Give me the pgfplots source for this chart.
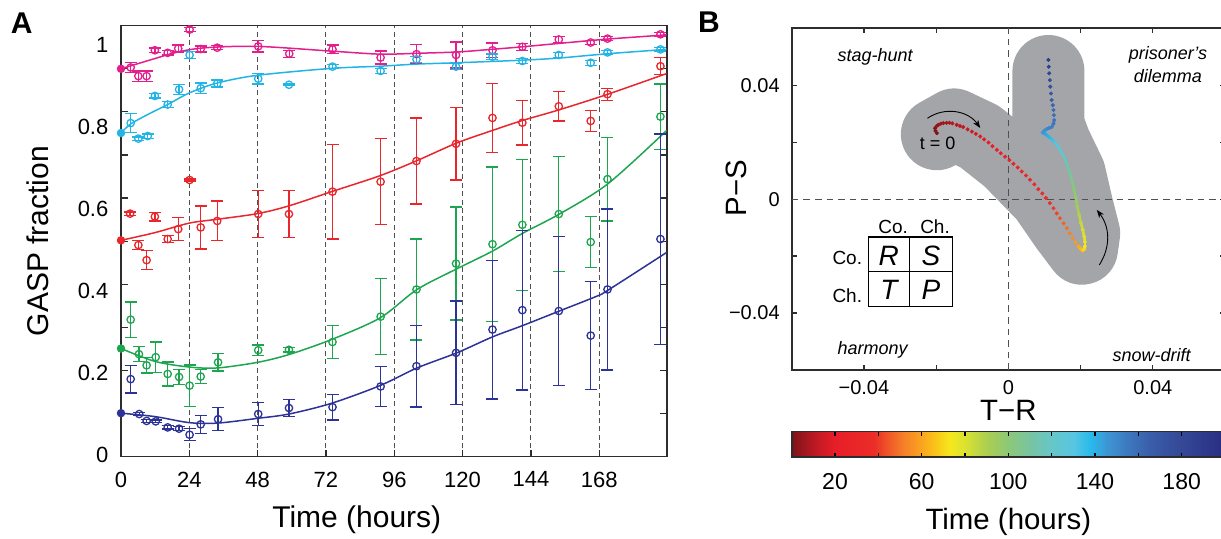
\documentclass[border=0pt]{standalone}
\usepackage{fontspec}
\setmainfont{Liberation Sans}
\usepackage{pgfplots}
\usepackage{pgfplotstable}
\pgfplotsset{compat=1.18}
\usetikzlibrary{arrows.meta}

\definecolor{cpink}{RGB}{228,30,140}
\definecolor{ccyan}{RGB}{35,180,230}
\definecolor{cred}{RGB}{232,38,44}
\definecolor{cgreen}{RGB}{30,165,80}
\definecolor{cblue}{RGB}{45,50,150}
\definecolor{blobgray}{RGB}{163,165,168}
\definecolor{dashgray}{RGB}{80,80,80}
\definecolor{framegray}{RGB}{45,45,45}

\pgfplotsset{colormap={traj}{
rgb255(0cm)=(125,20,25)
rgb255(1cm)=(185,25,35)
rgb255(2cm)=(232,30,40)
rgb255(3.8cm)=(235,45,40)
rgb255(4.5cm)=(240,90,40)
rgb255(5.2cm)=(245,130,40)
rgb255(6cm)=(250,165,30)
rgb255(6.6cm)=(250,195,25)
rgb255(7.3cm)=(245,232,30)
rgb255(8cm)=(218,226,48)
rgb255(9cm)=(172,206,80)
rgb255(10cm)=(140,200,120)
rgb255(11cm)=(120,196,162)
rgb255(12cm)=(102,198,200)
rgb255(13cm)=(88,198,225)
rgb255(13.8cm)=(40,185,235)
rgb255(14.6cm)=(62,148,210)
rgb255(15.6cm)=(60,118,188)
rgb255(16.6cm)=(58,92,168)
rgb255(18cm)=(52,72,150)
rgb255(20cm)=(40,45,130)
}}

% ---------- panel A data ----------
\pgfplotstableread{
t v e
3.4 0.903 0.011
6.1 0.883 0.012
9.0 0.883 0.012
11.9 0.943 0.005
16.4 0.937 0.005
20.1 0.947 0.008
24.1 0.991 0.005
28.0 0.946 0.007
33.8 0.949 0.005
48.2 0.952 0.013
59.1 0.935 0.008
74.3 0.945 0.010
91.2 0.926 0.015
103.8 0.934 0.022
117.7 0.932 0.030
130.5 0.943 0.017
141.0 0.951 0.008
153.8 0.968 0.007
165.0 0.961 0.004
170.9 0.970 0.005
189.5 0.980 0.004
}\pinkdata
\pgfplotstableread{
t v
0 0.900
10 0.920
20 0.939
30 0.949
48 0.952
74 0.941
91 0.934
104 0.936
118 0.939
130 0.945
141 0.951
154 0.959
171 0.969
190 0.978
191.7 0.980
}\pinkfit

\pgfplotstableread{
t v e
3.4 0.774 0.022
6.1 0.738 0.004
9.4 0.744 0.005
11.9 0.837 0.005
16.4 0.817 0.007
20.4 0.852 0.012
24.1 0.932 0.008
28.0 0.855 0.012
33.8 0.866 0.008
48.2 0.877 0.012
59.0 0.863 0.002
74.3 0.905 0.005
91.2 0.895 0.006
103.8 0.922 0.007
117.7 0.905 0.007
130.5 0.928 0.006
141.0 0.918 0.006
153.8 0.932 0.006
165.0 0.914 0.006
170.9 0.938 0.005
189.5 0.945 0.004
}\cyandata
\pgfplotstableread{
t v
0 0.751
3.4 0.772
10 0.796
16.4 0.817
24 0.844
33.8 0.867
48 0.885
74 0.901
91 0.906
104 0.911
118 0.914
141 0.920
154 0.925
171 0.935
191.7 0.945
}\cyanfit

\pgfplotstableread{
t v e
3.2 0.564 0.004
6.1 0.491 0.010
9.0 0.456 0.022
11.9 0.557 0.010
16.4 0.505 0.008
20.1 0.528 0.027
24.1 0.642 0.002
28.0 0.532 0.050
33.8 0.547 0.046
48.2 0.563 0.054
59.0 0.563 0.054
74.3 0.615 0.110
91.2 0.638 0.100
103.8 0.686 0.100
117.7 0.726 0.084
130.5 0.786 0.080
141.0 0.775 0.052
153.8 0.813 0.034
165.0 0.779 0.024
170.9 0.841 0.014
189.5 0.906 0.020
}\reddata
\pgfplotstableread{
t v
0 0.502
12 0.520
24 0.542
34 0.551
48 0.564
59 0.582
74 0.615
91 0.652
104 0.687
118 0.728
130.5 0.757
141 0.780
154 0.805
171 0.841
191.7 0.889
}\redfit

\pgfplotstableread{
t v e
3.4 0.318 0.041
6.3 0.238 0.017
9.0 0.212 0.018
12.2 0.231 0.035
16.4 0.192 0.028
20.4 0.185 0.017
24.1 0.165 0.048
28.0 0.186 0.016
34.1 0.219 0.020
48.2 0.247 0.012
59.0 0.248 0.005
74.3 0.266 0.038
91.2 0.325 0.088
103.8 0.388 0.117
117.7 0.448 0.131
130.5 0.493 0.179
141.0 0.538 0.152
153.8 0.563 0.134
165.0 0.498 0.059
170.9 0.644 0.097
189.5 0.789 0.076
}\greendata
\pgfplotstableread{
t v
0 0.251
12 0.221
24 0.208
34 0.206
48 0.219
59 0.237
74 0.272
91 0.322
104 0.388
118 0.436
130.5 0.477
141 0.518
154 0.563
171 0.633
191.7 0.757
}\greenfit

\pgfplotstableread{
t v e
3.4 0.180 0.032
6.4 0.099 0.004
9.0 0.083 0.004
12.2 0.082 0.003
16.4 0.068 0.004
20.4 0.065 0.005
24.1 0.051 0.014
28.0 0.075 0.021
34.1 0.087 0.027
48.2 0.099 0.026
59.0 0.113 0.019
74.3 0.115 0.030
91.2 0.163 0.046
103.8 0.210 0.095
117.7 0.241 0.120
130.5 0.295 0.161
141.0 0.340 0.185
153.8 0.338 0.173
165.0 0.281 0.125
170.9 0.388 0.187
189.5 0.505 0.244
}\bluedata
\pgfplotstableread{
t v
0 0.101
12 0.093
24 0.079
34 0.078
48 0.089
59 0.099
74 0.124
91 0.165
104 0.206
118 0.241
130.5 0.278
141 0.304
154 0.338
167 0.372
171 0.386
191.7 0.474
}\bluefit

% ---------- panel B data ----------
\pgfplotstableread{
x y t
-0.0198 0.0232 0
-0.0202 0.0240 1
-0.0203 0.0249 2
-0.0199 0.0256 3
-0.0194 0.0261 4
-0.0187 0.0265 5
-0.0180 0.0267 6
-0.0171 0.0268 7
-0.0163 0.0268 8
-0.0155 0.0266 9
-0.0143 0.0261 10
-0.0134 0.0257 11
-0.0125 0.0253 12
-0.0113 0.0245 13.2
-0.0101 0.0237 14.4
-0.0090 0.0229 15.6
-0.0078 0.0220 16.8
-0.0067 0.0210 18
-0.0055 0.0199 19.2
-0.0044 0.0186 20.4
-0.0032 0.0173 21.6
-0.0021 0.0161 22.8
-0.0009 0.0149 24
0.0003 0.0137 25.2
0.0014 0.0124 26.4
0.0026 0.0111 27.6
0.0037 0.0097 28.8
0.0049 0.0083 30
0.0060 0.0068 31.2
0.0072 0.0052 32.5
0.0083 0.0035 33.8
0.0094 0.0020 35.2
0.0104 0.0004 36.6
0.0115 -0.0014 38.2
0.0125 -0.0032 40
0.0134 -0.0050 42
0.0143 -0.0067 44
0.0153 -0.0085 46.5
0.0162 -0.0102 49
0.0170 -0.0120 52
0.0178 -0.0137 55
0.0186 -0.0152 58
0.0194 -0.0166 61
0.0200 -0.0174 64
0.0206 -0.0180 67
0.0210 -0.0176 70
0.0212 -0.0166 73
0.0212 -0.0150 76
0.0210 -0.0131 79
0.0206 -0.0108 82
0.0201 -0.0084 85
0.0196 -0.0055 89
0.0191 -0.0026 93
0.0187 0.0004 97
0.0182 0.0033 101
0.0177 0.0062 105
0.0171 0.0091 109
0.0163 0.0120 114
0.0154 0.0149 119
0.0144 0.0172 124
0.0134 0.0191 129
0.0123 0.0206 134
0.0111 0.0220 139
0.0103 0.0228 142
0.0095 0.0234 145
0.0100 0.0241 147
0.0106 0.0246 149
0.0113 0.0250 151
0.0120 0.0253 153
0.0125 0.0265 155
0.0127 0.0278 157
0.0126 0.0295 159
0.0125 0.0313 161
0.0123 0.0330 163
0.0120 0.0348 166
0.0118 0.0371 170
0.0116 0.0395 174
0.0115 0.0418 178
0.0113 0.0442 182
0.0112 0.0465 186
0.0111 0.0489 190
}\trajB
\pgfplotstableread{
x y t
0.0200 -0.0174 64
0.0206 -0.0180 67
0.0210 -0.0176 70
0.0212 -0.0166 73
0.0212 -0.0150 76
0.0210 -0.0131 79
0.0206 -0.0108 82
0.0201 -0.0084 85
0.0196 -0.0055 89
0.0191 -0.0026 93
0.0187 0.0004 97
0.0182 0.0033 101
0.0177 0.0062 105
0.0171 0.0091 109
0.0163 0.0120 114
0.0154 0.0149 119
0.0144 0.0172 124
0.0134 0.0191 129
0.0123 0.0206 134
0.0111 0.0220 139
0.0103 0.0228 142
0.0095 0.0234 145
0.0100 0.0241 147
0.0106 0.0246 149
0.0113 0.0250 151
0.0120 0.0253 153
0.0125 0.0265 155
0.0127 0.0278 157
}\trajC

\pgfplotsset{
  gaspdata/.style={only marks, mark=o, mark size=1.85pt, line width=0.65pt,
    error bars/y dir=both, error bars/y explicit,
    error bars/error mark=|,
    error bars/error bar style={line width=0.65pt},
    error bars/error mark options={mark size=3pt, line width=0.65pt}},
  gaspfit/.style={no marks, smooth, line width=0.75pt},
}

\begin{document}
\begin{tikzpicture}

% ================= Panel A =================
\begin{axis}[
  at={(60.5pt,-228.35pt)}, anchor=south west, scale only axis,
  width=272.85pt, height=215.5pt,
  xmin=0, xmax=191.7, ymin=0, ymax=1,
  xtick={0,24,48,72,96,120,144,168}, xticklabels={0,24,48,72,96,120,144,168},
  ytick={0,0.2,0.4,0.6,0.8,1}, yticklabels={0,0.2,0.4,0.6,0.8,1},
  minor ytick={0.1,0.3,0.5,0.7,0.9},
  xtick pos=left, ytick pos=both, yticklabel pos=left,
  tick align=inside, major tick length=3.3pt, minor tick length=3.3pt,
  tick style={line width=0.6pt, framegray},
  axis line style={line width=0.8pt, framegray},
  xmajorgrids,
  major grid style={dash pattern=on 2.5pt off 1.7pt, line width=0.5pt, dashgray},
  ticklabel style={font=\fontsize{11}{13}\selectfont},
  xticklabel style={yshift=-4pt},
  yticklabel style={xshift=-2.8pt, yshift={0.75pt-2.05pt*\ticknum}},
  xlabel={Time (hours)}, ylabel={GASP fraction},
  label style={font=\fontsize{15}{18}\selectfont},
  xlabel style={at={(axis description cs:0.432,-0.147)}, anchor=center},
  ylabel style={at={(axis description cs:-0.152,0.5)}, anchor=center},
  scaled ticks=false,
]
\addplot[gaspfit, cpink] table[x=t, y=v] {\pinkfit};
\addplot[gaspfit, ccyan] table[x=t, y=v] {\cyanfit};
\addplot[gaspfit, cred] table[x=t, y=v] {\redfit};
\addplot[gaspfit, cgreen] table[x=t, y=v] {\greenfit};
\addplot[gaspfit, cblue] table[x=t, y=v] {\bluefit};

\addplot[cpink, gaspdata] table[x=t, y=v, y error=e] {\pinkdata};
\addplot[ccyan, gaspdata] table[x=t, y=v, y error=e] {\cyandata};
\addplot[cred, gaspdata] table[x=t, y=v, y error=e] {\reddata};
\addplot[cgreen, gaspdata] table[x=t, y=v, y error=e] {\greendata};
\addplot[cblue, gaspdata] table[x=t, y=v, y error=e] {\bluedata};

\addplot[only marks, mark=*, mark size=1.9pt, cpink] coordinates {(0,0.900)};
\addplot[only marks, mark=*, mark size=1.9pt, ccyan] coordinates {(0,0.751)};
\addplot[only marks, mark=*, mark size=1.9pt, cred] coordinates {(0,0.502)};
\addplot[only marks, mark=*, mark size=1.9pt, cgreen] coordinates {(0,0.251)};
\addplot[only marks, mark=*, mark size=1.9pt, cblue] coordinates {(0,0.101)};
\end{axis}

% ================= Panel B =================
\begin{axis}[
  at={(395.85pt,-185pt)}, anchor=south west, scale only axis,
  width=216.65pt, height=170.85pt,
  xmin=-0.06, xmax=0.06, ymin=-0.06, ymax=0.06,
  xtick={-0.04,-0.02,0,0.02,0.04}, xticklabels={−0.04,,0,,0.04},
  ytick={-0.04,-0.02,0,0.02,0.04}, yticklabels={−0.04,,0,,0.04},
  xtick pos=both, ytick pos=both, xticklabel pos=left, yticklabel pos=left,
  tick align=inside, major tick length=2.5pt,
  tick style={line width=0.6pt, framegray},
  axis line style={line width=0.8pt, framegray},
  ticklabel style={font=\fontsize{10}{12}\selectfont},
  xticklabel style={yshift=-1.5pt},
  yticklabel style={xshift=-2.5pt},
  xlabel={T−R}, ylabel={P−S},
  label style={font=\fontsize{14.7}{17}\selectfont},
  xlabel style={at={(axis description cs:0.5,-0.117)}, anchor=center},
  ylabel style={at={(axis description cs:-0.127,0.533)}, anchor=center},
  scaled ticks=false,
  colormap name=traj, point meta min=0, point meta max=200,
  colorbar horizontal,
  colorbar shift/.style={},
  colorbar style={
    at={(parent axis.south west)}, anchor=north west, yshift=-30.85pt,
    scale only axis, width=216.65pt, height=12.8pt,
    xtick={20,40,60,80,100,120,140,160,180},
    xticklabels={20,,60,,100,,140,,180},
    xtick pos=both, xticklabel pos=left, tick align=inside,
    major tick length=2.2pt,
    tick style={line width=0.6pt, black},
    axis line style={line width=0.8pt, framegray},
    scaled ticks=false,
    xticklabel style={font=\fontsize{11.5}{13}\selectfont, yshift=-4.3pt},
    xlabel={Time (hours)},
    xlabel style={font=\fontsize{14.7}{17}\selectfont, at={(axis description cs:0.5,-2.52)}, anchor=center},
  },
]
% grey envelope
\addplot[blobgray, line width=36pt, line cap=round, line join=round, no marks] coordinates {
(-0.0198,0.0228) (-0.0150,0.0262) (-0.0080,0.0220) (0.0000,0.0140) (0.0100,0.0010)
(0.0160,-0.0100) (0.0204,-0.0174) (0.0210,-0.0120) (0.0190,-0.0020) (0.0170,0.0090)
(0.0130,0.0195) (0.0111,0.0260) (0.0111,0.0450)};
% quadrant dividers
\addplot[dashgray, line width=0.5pt, dash pattern=on 3.3pt off 2.5pt, no marks] coordinates {(0,-0.06) (0,0.06)};
\addplot[dashgray, line width=0.5pt, dash pattern=on 3.3pt off 2.5pt, no marks] coordinates {(-0.06,0) (0.06,0)};

% trajectory
\addplot[mesh, point meta=explicit, line width=1.3pt, no marks] table[x=x, y=y, meta=t] {\trajC};
\addplot[scatter, only marks, mark=*, mark size=0.8pt, point meta=explicit,
  scatter/use mapped color={draw=mapped color, fill=mapped color}]
  table[x=x, y=y, meta=t] {\trajB};

% arrows
\draw[-{Stealth[length=4pt,width=3pt]}, line width=0.45pt] (axis cs:-0.0224,0.0284) to[bend left=45] (axis cs:-0.0078,0.0250);
\draw[-{Stealth[length=4pt,width=3pt]}, line width=0.45pt] (axis cs:0.0252,-0.0231) to[bend right=35] (axis cs:0.0245,-0.0038);
\node[font=\fontsize{9}{11}\selectfont] at (axis cs:-0.0196,0.0195) {t = 0};

% quadrant names
\node[font=\fontsize{9}{11}\selectfont\itshape] at (axis cs:-0.0369,0.0498) {stag-hunt};
\node[font=\fontsize{9}{11.4}\selectfont\itshape, align=center] at (axis cs:0.0442,0.0472) {prisoner’s\\dilemma};
\node[font=\fontsize{9}{11}\selectfont\itshape] at (axis cs:-0.0376,-0.0529) {harmony};
\node[font=\fontsize{9}{11}\selectfont\itshape] at (axis cs:0.0397,-0.0547) {snow-drift};

% payoff matrix
\draw[line width=0.6pt] (axis cs:-0.0388,-0.0133) rectangle (axis cs:-0.0155,-0.0377);
\draw[line width=0.45pt] (axis cs:-0.0274,-0.0133) -- (axis cs:-0.0274,-0.0377);
\draw[line width=0.45pt] (axis cs:-0.0388,-0.0255) -- (axis cs:-0.0155,-0.0255);
\node[font=\fontsize{9.5}{11}\selectfont] at (axis cs:-0.0319,-0.0096) {Co.};
\node[font=\fontsize{9.5}{11}\selectfont] at (axis cs:-0.0203,-0.0096) {Ch.};
\node[font=\fontsize{9.5}{11}\selectfont, anchor=east, inner sep=0pt] at (axis cs:-0.0404,-0.0207) {Co.};
\node[font=\fontsize{9.5}{11}\selectfont, anchor=east, inner sep=0pt] at (axis cs:-0.0404,-0.0339) {Ch.};
\node[font=\fontsize{14}{16}\selectfont\itshape] at (axis cs:-0.0331,-0.0200) {R};
\node[font=\fontsize{14}{16}\selectfont\itshape] at (axis cs:-0.0214,-0.0200) {S};
\node[font=\fontsize{14}{16}\selectfont\itshape] at (axis cs:-0.0331,-0.0320) {T};
\node[font=\fontsize{14}{16}\selectfont\itshape] at (axis cs:-0.0214,-0.0320) {P};
\end{axis}

\node[font=\fontsize{15}{18}\selectfont\bfseries] at (10.8pt,-11.6pt) {A};
\node[font=\fontsize{15}{18}\selectfont\bfseries] at (354.5pt,-11.3pt) {B};

\pgfresetboundingbox
\path[use as bounding box] (0,0) rectangle (610.5pt,-269.5pt);
\end{tikzpicture}
\end{document}
